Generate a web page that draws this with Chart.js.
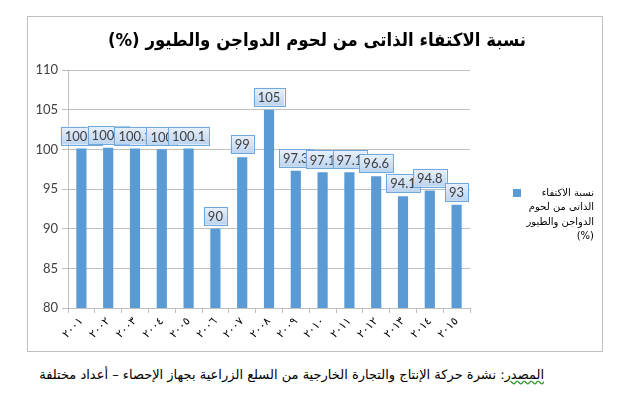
<!DOCTYPE html>
<html>
<head>
<meta charset="utf-8">
<script src="https://cdn.jsdelivr.net/npm/chart.js@4.4.1/dist/chart.umd.min.js"></script>
<style>
    body { margin: 0; background: #fff; }
    #box {
        position: absolute; left: 27px; top: 16px;
        width: 576px; height: 336px;
        border: 1px solid #bfbfbf; box-sizing: border-box;
    }
    #footer {
        position: absolute; right: 78px; top: 367px;
        font: 13px "DejaVu Sans", sans-serif;
        direction: rtl; color: #000; white-space: nowrap;
    }
    #footer span { text-decoration: underline wavy #3a9a3a; }
</style>
</head>
<body>
<div id="box"><canvas id="selfChart" width="574" height="334"></canvas></div>
<div id="footer"><span>المصدر</span>: نشرة حركة الإنتاج والتجارة الخارجية من السلع الزراعية بجهاز الإحصاء – أعداد مختلفة</div>

<script>
// بيانات الرسم
const years = ["٢٠٠١", "٢٠٠٢", "٢٠٠٣", "٢٠٠٤", "٢٠٠٥", "٢٠٠٦", "٢٠٠٧", "٢٠٠٨",
    "٢٠٠٩", "٢٠١٠", "٢٠١١", "٢٠١٢", "٢٠١٣", "٢٠١٤", "٢٠١٥"];
const selfSufficiency = [100.1, 100.2, 100.1, 100, 100.1, 90, 99, 105,
    97.3, 97.1, 97.1, 96.6, 94.1, 94.8, 93];
const yTicks = [80, 85, 90, 95, 100, 105, 110];

const chartTitle = "نسبة الاكتفاء الذاتى من لحوم الدواجن والطيور (%)";
const legendLines = ["نسبة الاكتفاء", "الذاتى من لحوم", "الدواجن والطيور", "(%)"];

const barColor = "#5b9bd5";

// العنوان والمفتاح وصناديق القيم
const decorPlugin = {
    id: "decor",
    afterDatasetsDraw(chart) {
        const ctx = chart.ctx;
        const meta = chart.getDatasetMeta(0);

        // صناديق القيم فوق الأعمدة
        ctx.save();
        ctx.font = '13px "Lato", "Liberation Sans", sans-serif';
        ctx.textAlign = "center";
        ctx.textBaseline = "middle";
        meta.data.forEach((bar, i) => {
            const txt = String(selfSufficiency[i]);
            const w = ctx.measureText(txt).width + 8;
            const h = 18;
            const x = bar.x - w / 2;
            const y = bar.y - 4 - h;
            const g = ctx.createLinearGradient(0, y, 0, y + h);
            g.addColorStop(0, "#e9f1fb");
            g.addColorStop(1, "#bcd4ef");
            ctx.fillStyle = g;
            ctx.fillRect(x, y, w, h);
            ctx.strokeStyle = "#6fa8dc";
            ctx.lineWidth = 1;
            ctx.strokeRect(Math.round(x) + 0.5, Math.round(y) + 0.5, Math.round(w), h);
            ctx.fillStyle = "#404040";
            ctx.fillText(txt, bar.x, y + h / 2 + 1);
        });
        ctx.restore();
    },
    afterDraw(chart) {
        const ctx = chart.ctx;
        ctx.save();
        ctx.direction = "rtl";
        // العنوان
        ctx.save();
        ctx.translate(289, 24);
        ctx.scale(0.92, 1);
        ctx.font = 'bold 18px "DejaVu Sans", sans-serif';
        ctx.fillStyle = "#000";
        ctx.textAlign = "center";
        ctx.textBaseline = "middle";
        ctx.fillText(chartTitle, 0, 0);
        ctx.restore();

        // المفتاح
        ctx.fillStyle = barColor;
        ctx.fillRect(485, 172, 8, 8);
        ctx.font = '10px "DejaVu Sans", sans-serif';
        ctx.fillStyle = "#000";
        ctx.textAlign = "right";
        ctx.textBaseline = "middle";
        legendLines.forEach((line, i) => {
            ctx.fillText(line, 566, 176 + i * 14.5);
        });
        ctx.restore();
    }
};

const ctx = document.getElementById("selfChart").getContext("2d");

new Chart(ctx, {
    type: "bar",
    data: {
        labels: years,
        datasets: [
            {
                label: legendLines.join(" "),
                data: selfSufficiency,
                backgroundColor: barColor,
                barPercentage: 0.38,
                categoryPercentage: 1,
            },
        ],
    },
    options: {
        responsive: false,
        animation: false,
        layout: { padding: { top: 53, right: 132, left: 0, bottom: 0 } },
        plugins: {
            legend: { display: false },
            tooltip: { enabled: false },
        },
        scales: {
            x: {
                grid: {
                    offset: true,
                    drawOnChartArea: false,
                    drawTicks: true,
                    tickLength: 5,
                    color: "#bfbfbf",
                },
                border: { color: "#bfbfbf" },
                ticks: {
                    minRotation: 45,
                    maxRotation: 45,
                    color: "#000",
                    padding: 2,
                    font: { family: "'DejaVu Sans', sans-serif", size: 11 },
                },
                afterFit(scale) { scale.height = 43; },
            },
            y: {
                min: 80,
                max: 110,
                afterBuildTicks(scale) {
                    scale.ticks = yTicks.map(v => ({ value: v }));
                },
                grid: {
                    color: "#bfbfbf",
                    tickLength: 6,
                },
                border: { color: "#bfbfbf" },
                ticks: {
                    color: "#404040",
                    padding: 4,
                    font: { family: "'Lato', 'Liberation Sans', sans-serif", size: 13 },
                },
                afterFit(scale) { scale.width = 40; },
            },
        },
    },
    plugins: [decorPlugin],
});
</script>
</body>
</html>
